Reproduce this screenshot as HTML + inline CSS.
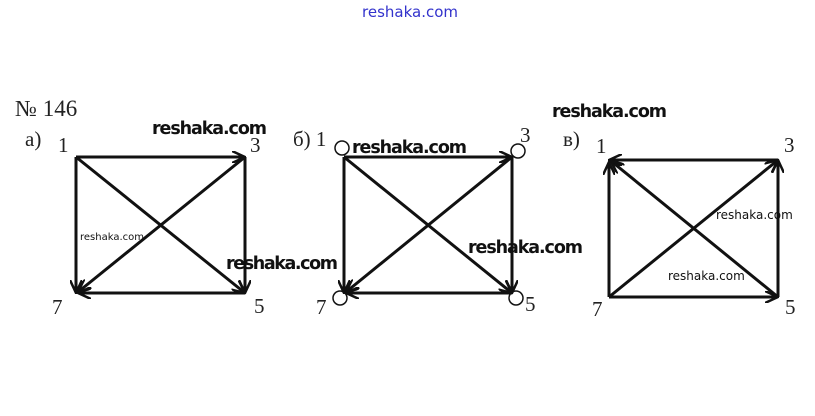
<!DOCTYPE html>
<html><head><meta charset="utf-8"><style>
body{margin:0;background:#fff;width:815px;height:416px;overflow:hidden;position:relative}
svg{position:absolute;left:0;top:0}
.s{font-family:"Liberation Serif",serif;font-size:21px;fill:#222}
.w{font-family:"DejaVu Sans","Liberation Sans",sans-serif;fill:#111}
</style></head><body>
<svg width="815" height="416" viewBox="0 0 815 416">
<defs><marker id="a" markerWidth="14" markerHeight="12" refX="13" refY="6" orient="auto" markerUnits="userSpaceOnUse"><path d="M0,0 L13,6 L0,12" fill="none" stroke="#111" stroke-width="2.5"/></marker></defs>
<g stroke="#111" stroke-width="3" fill="none" marker-end="url(#a)">
<line x1="76" y1="157" x2="245" y2="157"/>
<line x1="245" y1="157" x2="245" y2="293"/>
<line x1="245" y1="293" x2="78" y2="293"/>
<line x1="76" y1="157" x2="76" y2="293"/>
<line x1="245" y1="157" x2="78" y2="292"/>
<line x1="76" y1="157" x2="245" y2="293"/>
<line x1="344" y1="157" x2="512" y2="157"/>
<line x1="512" y1="157" x2="512" y2="293"/>
<line x1="512" y1="293" x2="346" y2="293"/>
<line x1="344" y1="157" x2="344" y2="293"/>
<line x1="512" y1="157" x2="346" y2="292"/>
<line x1="344" y1="157" x2="512" y2="293"/>
<line x1="778" y1="160" x2="609" y2="160"/>
<line x1="778" y1="297" x2="778" y2="160"/>
<line x1="609" y1="297" x2="778" y2="297"/>
<line x1="609" y1="297" x2="609" y2="162"/>
<line x1="609" y1="297" x2="778" y2="160"/>
<line x1="778" y1="297" x2="611" y2="161"/>
</g>
<g stroke="#111" stroke-width="1.5" fill="none">
<circle cx="342" cy="148" r="7"/><circle cx="518" cy="151" r="7"/>
<circle cx="340" cy="298" r="7"/><circle cx="516" cy="298" r="7"/>
</g>
<text x="410" y="17" text-anchor="middle" class="w" style="font-size:15px;fill:#33c">reshaka.com</text>
<text x="15" y="116" class="s" style="font-size:23px">№ 146</text>
<text x="25" y="146" class="s">а)</text>
<text x="58" y="152" class="s">1</text><text x="250" y="152" class="s">3</text>
<text x="52" y="314" class="s">7</text><text x="254" y="313" class="s">5</text>
<text x="293" y="146" class="s">б) 1</text><text x="520" y="142" class="s">3</text>
<text x="316" y="314" class="s">7</text><text x="525" y="311" class="s">5</text>
<text x="563" y="146" class="s">в)</text><text x="596" y="153" class="s">1</text>
<text x="784" y="152" class="s">3</text><text x="592" y="316" class="s">7</text><text x="785" y="314" class="s">5</text>
<g style="font-size:17.5px;font-weight:bold" class="w">
<text x="152" y="134" textLength="115">reshaka.com</text>
<text x="352" y="153" textLength="115">reshaka.com</text>
<text x="552" y="117" textLength="115">reshaka.com</text>
<text x="226" y="269" textLength="112">reshaka.com</text>
<text x="468" y="253" textLength="115">reshaka.com</text>
</g>
<text x="80" y="240" class="w" style="font-size:10px">reshaka.com</text>
<text x="716" y="219" class="w" style="font-size:12px">reshaka.com</text>
<text x="668" y="280" class="w" style="font-size:12px">reshaka.com</text>
</svg>
</body></html>
